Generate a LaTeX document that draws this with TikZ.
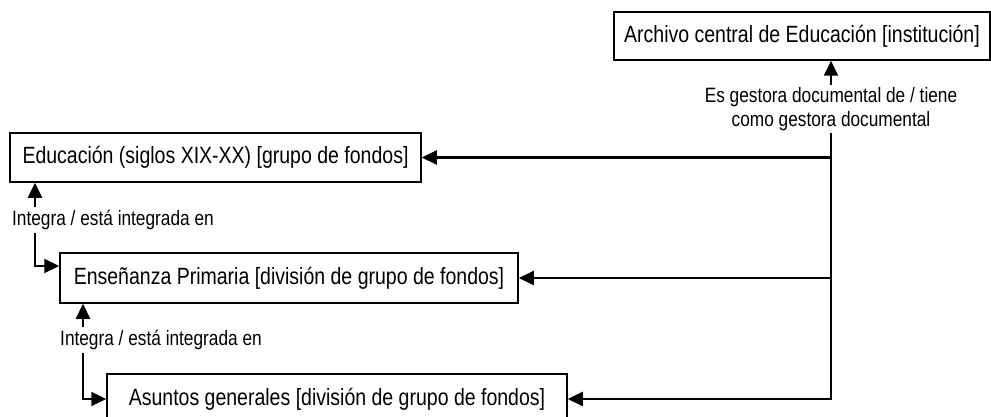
\documentclass[tikz,border=0pt]{standalone}
\usepackage{fontspec}
\setmainfont[FakeStretch=0.83]{Liberation Sans}
\usetikzlibrary{arrows.meta}
\tikzset{
  x=1pt, y=-1pt,
  box/.style={draw=black, line width=1.5pt, fill=white, inner sep=0pt, align=center,
    font=\fontsize{23.5}{27}\selectfont},
  lbl/.style={fill=white, inner sep=2pt, align=center, font=\fontsize{20.8}{24.5}\selectfont},
  conn/.style={line width=2.2pt, draw=black},
  tip/.tip={Triangle[length=15pt,width=14pt]}
}
\begin{document}
\begin{tikzpicture}
\useasboundingbox (0,0) rectangle (991,417);
\node[box, minimum width=376pt, minimum height=48pt] (b1) at (802,36) {Archivo central de Educación [institución]};
\node[box, minimum width=411pt, minimum height=49pt] (b2) at (215.5,157.5) {Educación (siglos XIX-XX) [grupo de fondos]};
\node[box, minimum width=458pt, minimum height=50pt] (b3) at (289,278) {Enseñanza Primaria [división de grupo de fondos]};
\node[box, minimum width=460pt, minimum height=50pt] (b4) at (337,399) {Asuntos generales [división de grupo de fondos]};

\node[lbl] (lab) at (831,109) {Es gestora documental de / tiene\\como gestora documental};

\coordinate (k1) at (35,266);
\coordinate (k2) at (83,399);

\draw[conn,-tip] (lab.north) -- (lab.north |- b1.south);
\draw[conn,-tip, line join=miter] (lab.south) |- (b4.east);
\draw[conn,-tip] (lab.south |- b2.east) -- (b2.east);
\draw[conn,-tip] (lab.south |- b3.east) -- (b3.east);

\draw[conn,tip-tip, line join=miter] (b2.south -| k1) |- (b3.west |- k1);
\draw[conn,tip-tip, line join=miter] (b3.south -| k2) |- (b4.west |- k2);

\node[lbl, anchor=west, inner xsep=2pt, inner ysep=3pt] (l2) at (10,220) {Integra / está integrada en};
\node[lbl, anchor=west, inner xsep=2pt, inner ysep=3pt] (l3) at (58,340) {Integra / está integrada en};
\end{tikzpicture}
\end{document}
